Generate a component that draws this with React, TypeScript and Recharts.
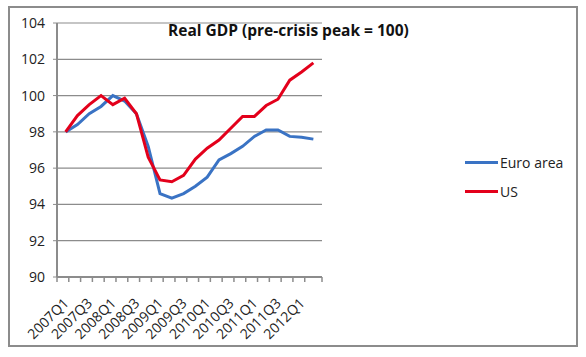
import { LineChart, Line, XAxis, YAxis, CartesianGrid, Legend } from 'recharts'

const quarters = [
  '2007Q1', '2007Q2', '2007Q3', '2007Q4',
  '2008Q1', '2008Q2', '2008Q3', '2008Q4',
  '2009Q1', '2009Q2', '2009Q3', '2009Q4',
  '2010Q1', '2010Q2', '2010Q3', '2010Q4',
  '2011Q1', '2011Q2', '2011Q3', '2011Q4',
  '2012Q1', '2012Q2',
]
const euroArea = [
  98.0, 98.4, 99.0, 99.4, 100.0, 99.7, 99.0, 97.2, 94.6, 94.35, 94.6,
  95.0, 95.5, 96.45, 96.8, 97.2, 97.75, 98.1, 98.1, 97.75, 97.7, 97.6,
]
const us = [
  98.0, 98.9, 99.5, 100.0, 99.5, 99.85, 99.0, 96.6, 95.35, 95.25, 95.6,
  96.5, 97.1, 97.55, 98.2, 98.85, 98.85, 99.45, 99.8, 100.85, 101.3, 101.8,
]
const yTicks = [90, 92, 94, 96, 98, 100, 102, 104]

const data = quarters.map((q, i) => ({ q, euro: euroArea[i], us: us[i] }))

const W = 586
const H = 357
const margin = { top: 23, right: 149, bottom: 20, left: 7 }
const yAxisWidth = 50
const band = (W - margin.left - margin.right - yAxisWidth) / quarters.length

const font = '"Open Sans", sans-serif'
const axisGray = '#8c8c8c'
const BLUE = '#3a73c4'
const RED = '#e3001b'

function QuarterTick(props: any) {
  const { x, y, payload, index } = props
  const left = x - band / 2
  const last = index === quarters.length - 1
  const lx = x + 4
  const ly = y + 19
  return (
    <g>
      <line x1={left} x2={left} y1={y - 8} y2={y - 3} stroke={axisGray} strokeWidth={1.5} />
      {last && (
        <line x1={x + band / 2} x2={x + band / 2} y1={y - 8} y2={y - 3} stroke={axisGray} strokeWidth={1.5} />
      )}
      {index % 2 === 0 && (
        <text
          x={lx}
          y={ly}
          textAnchor="end"
          fontSize={14}
          fontFamily={font}
          fill="#222"
          transform={`rotate(-45, ${lx}, ${ly})`}
        >
          {payload.value}
        </text>
      )}
    </g>
  )
}

function renderLegend() {
  const items = [
    { name: 'Euro area', color: BLUE },
    { name: 'US', color: RED },
  ]
  return (
    <div style={{ fontFamily: font, fontSize: 14, color: '#222' }}>
      {items.map((it) => (
        <div key={it.name} style={{ display: 'flex', alignItems: 'center', height: 29 }}>
          <div style={{ width: 33, height: 3, background: it.color, marginRight: 2 }} />
          <span>{it.name}</span>
        </div>
      ))}
    </div>
  )
}

export default function App() {
  return (
    <div style={{ position: 'absolute', left: 0, top: 0, width: W, height: H, background: '#fff' }}>
      <div
        style={{
          position: 'absolute',
          left: 8,
          top: 6,
          width: 570,
          height: 341,
          border: `2px solid ${axisGray}`,
          boxSizing: 'border-box',
        }}
      />
      <div style={{ position: 'absolute', left: 0, top: 0 }}>
        <LineChart width={W} height={H} data={data} margin={margin}>
          <CartesianGrid vertical={false} stroke={axisGray} strokeWidth={1.2} />
          <XAxis
            dataKey="q"
            interval={0}
            height={60}
            padding={{ left: band / 2, right: band / 2 }}
            tickLine={false}
            axisLine={{ stroke: axisGray, strokeWidth: 2 }}
            tick={<QuarterTick />}
          />
          <YAxis
            domain={[90, 104]}
            ticks={yTicks}
            width={yAxisWidth}
            tickSize={4}
            tickMargin={8}
            tickLine={{ stroke: axisGray }}
            axisLine={{ stroke: axisGray, strokeWidth: 2 }}
            tick={{ fontSize: 14, fontFamily: font, fill: '#222' }}
          />
          <Legend
            layout="vertical"
            align="right"
            verticalAlign="top"
            content={renderLegend}
            wrapperStyle={{ left: 465, top: 148, width: 115 }}
          />
          <Line
            dataKey="euro"
            name="Euro area"
            stroke={BLUE}
            strokeWidth={3}
            dot={false}
            isAnimationActive={false}
          />
          <Line
            dataKey="us"
            name="US"
            stroke={RED}
            strokeWidth={3}
            dot={false}
            isAnimationActive={false}
          />
        </LineChart>
      </div>
      <div
        style={{
          position: 'absolute',
          left: 168,
          top: 19,
          fontFamily: font,
          fontWeight: 700,
          fontSize: 15.5,
          color: '#111',
          whiteSpace: 'nowrap',
        }}
      >
        Real GDP (pre-crisis peak = 100)
      </div>
    </div>
  )
}
